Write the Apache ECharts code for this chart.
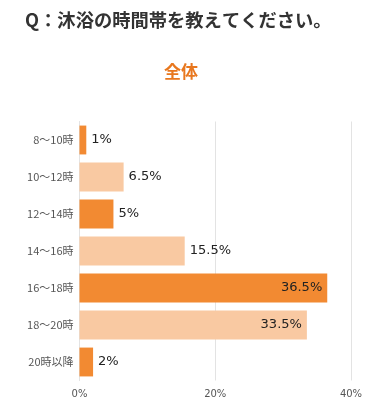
<!DOCTYPE html>
<html><head><meta charset="utf-8">
<script src="https://cdn.jsdelivr.net/npm/echarts@6/dist/echarts.min.js"></script>
<style>html,body{margin:0;padding:0;background:#fff}#c{width:389px;height:416px}</style>
</head><body><div id="c"></div>
<script>
const categories = ['8～10時','10～12時','12～14時','14～16時','16～18時','18～20時','20時以降'];
const values = [1, 6.5, 5, 15.5, 36.5, 33.5, 2];
const xTicks = [0, 20, 40];
const dark = '#F28A32', light = '#F9C9A2';
const chart = echarts.init(document.getElementById('c'));
chart.setOption({
  animation: false,
  title: [
    {text: 'Q：沐浴の時間帯を教えてください。', left: 20, top: 6,
     textStyle: {fontSize: 18.3, fontWeight: 'bold', color: '#333', fontFamily: 'Noto Sans CJK JP'}},
    {text: '全体', left: 159, top: 58,
     textStyle: {fontSize: 17, fontWeight: 'bold', color: '#E8771E', fontFamily: 'Noto Sans CJK JP'}}
  ],
  grid: {left: 79.5, right: 38, top: 121.5, bottom: 35.5, containLabel: false},
  xAxis: {type: 'value', min: xTicks[0], max: xTicks[xTicks.length - 1], interval: 20,
    axisLine: {show: false}, axisTick: {show: false},
    splitLine: {lineStyle: {color: '#e3e3e3'}},
    axisLabel: {formatter: v => v + '%', color: '#555', fontSize: 10, margin: 9, fontFamily: 'DejaVu Sans'}},
  yAxis: {type: 'category', data: categories, inverse: true,
    axisLine: {show: true, lineStyle: {color: '#e3e3e3'}}, axisTick: {show: false},
    axisLabel: {color: '#555', fontSize: 11, margin: 6, fontFamily: 'Noto Sans CJK JP'}},
  series: [{
    type: 'bar', barCategoryGap: '22%',
    data: values.map((v, i) => ({value: v,
      itemStyle: {color: i % 2 === 0 ? dark : light},
      label: (v > 30) ? {position: 'insideRight'} : {position: 'right'}})),
    label: {show: true, formatter: p => p.value + '%', color: '#222', fontSize: 13, distance: 5, fontFamily: 'DejaVu Sans'}
  }]
});
</script></body></html>
